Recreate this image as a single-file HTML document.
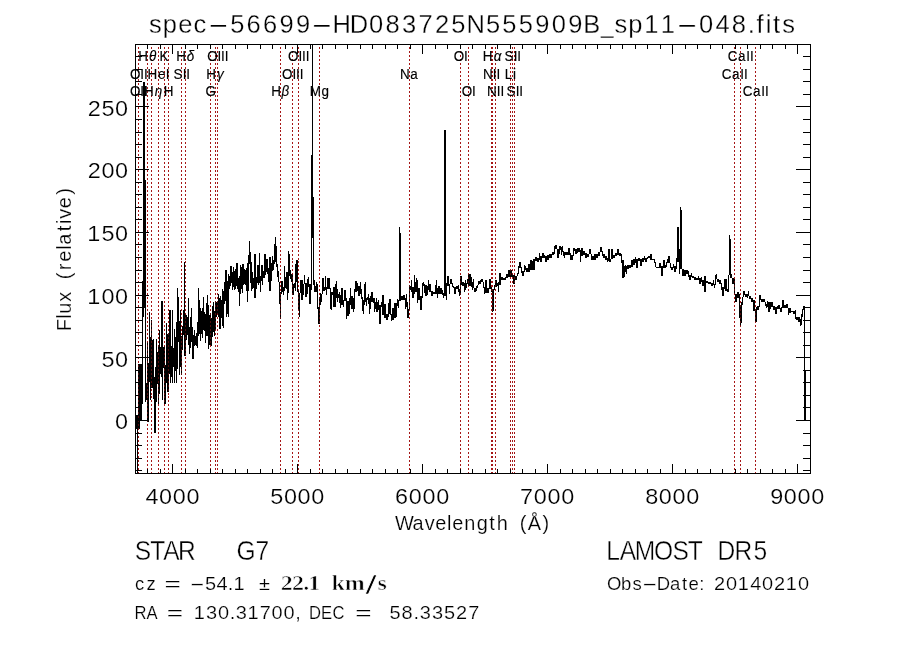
<!DOCTYPE html>
<html lang="en"><head><meta charset="utf-8"><title>spec-56699-HD083725N555909B_sp11-048.fits</title>
<style>html,body{margin:0;padding:0;background:#fff;}body{width:900px;height:649px;overflow:hidden;}svg{display:block;}text{font-family:"Liberation Sans",sans-serif;fill:#000;white-space:pre;}.serif{font-family:"Liberation Serif",serif;}.b{font-weight:bold;}.ax{stroke:#000;stroke-width:1;fill:none;shape-rendering:crispEdges;}.sp{stroke:#000;stroke-width:1;fill:none;shape-rendering:crispEdges;}.rl{stroke:#a61616;stroke-width:1;stroke-dasharray:2 1.97;fill:none;shape-rendering:crispEdges;}</style></head><body>
<svg width="900" height="649" viewBox="0 0 900 649">
<rect x="0" y="0" width="900" height="649" fill="#fff"/>
<text y="33.0" font-size="25.5" style="stroke:#fff;stroke-width:0.3px;paint-order:fill stroke"><tspan x="149.09 162.79 178.31 193.60">spec</tspan><tspan x="207.17" textLength="22.21" lengthAdjust="spacingAndGlyphs">-</tspan><tspan x="230.13 246.46 262.91 279.45 295.90">56699</tspan><tspan x="310.80" textLength="22.21" lengthAdjust="spacingAndGlyphs">-</tspan><tspan x="332.43 349.68 369.09 385.54 402.07 418.43 434.89 451.36 466.49 485.91 502.36 518.80 535.23 551.68 568.13 583.20">HD083725N555909B</tspan><tspan x="601.05" textLength="12.56" lengthAdjust="spacingAndGlyphs">_</tspan><tspan x="614.59 628.29 644.26 660.71">sp11</tspan><tspan x="675.96" textLength="22.21" lengthAdjust="spacingAndGlyphs">-</tspan><tspan x="698.89 715.42 731.79 747.68 756.52 765.66 773.07 782.37">048.fits</tspan></text>
<path class="rl" d="M138.5 473.9V45M147.5 473.9V45M151.5 473.9V45M158.5 473.9V45M164.5 473.9V45M168.5 473.9V45M181.5 473.9V45M185.5 473.9V45M210.5 473.9V45M215.5 473.9V45M217.5 473.9V45M280.5 473.9V45M292.5 473.9V45M298.5 473.9V45M319.5 473.9V45M409.5 473.9V45M460.5 473.9V45M468.5 473.9V45M491.5 473.9V45M492.5 473.9V45M495.5 473.9V45M510.5 473.9V45M512.5 473.9V45M514.5 473.9V45M734.5 473.9V45M740.5 473.9V45M755.5 473.9V45"/>
<text transform="scale(0.96 1)" y="78.6" font-size="14" style="stroke:#000;stroke-width:0.15px"><tspan x="135.38 146.07 149.90">OII</tspan></text>
<text transform="scale(0.96 1)" y="95.6" font-size="14" style="stroke:#000;stroke-width:0.15px"><tspan x="135.38 146.07 149.90">OII</tspan></text>
<text transform="scale(0.96 1)" y="61.5" font-size="14" style="stroke:#000;stroke-width:0.15px"><tspan x="143.93">H</tspan><tspan x="155.15" font-style="italic">θ</tspan></text>
<text transform="scale(0.96 1)" y="95.6" font-size="14" style="stroke:#000;stroke-width:0.15px"><tspan x="150.13">H</tspan><tspan x="161.22" font-style="italic">η</tspan></text>
<text transform="scale(0.96 1)" y="78.6" font-size="14" style="stroke:#000;stroke-width:0.15px"><tspan x="153.77 164.53 172.69">HeI</tspan></text>
<text transform="scale(0.96 1)" y="61.5" font-size="14" style="stroke:#000;stroke-width:0.15px"><tspan x="166.19">K</tspan></text>
<text transform="scale(0.96 1)" y="95.6" font-size="14" style="stroke:#000;stroke-width:0.15px"><tspan x="170.46">H</tspan></text>
<text transform="scale(0.96 1)" y="78.6" font-size="14" style="stroke:#000;stroke-width:0.15px"><tspan x="180.81 190.24 194.08">SII</tspan></text>
<text transform="scale(0.96 1)" y="61.5" font-size="14" style="stroke:#000;stroke-width:0.15px"><tspan x="183.68">H</tspan><tspan x="194.43" font-style="italic">δ</tspan></text>
<text transform="scale(0.96 1)" y="95.6" font-size="14" style="stroke:#000;stroke-width:0.15px"><tspan x="214.00">G</tspan></text>
<text transform="scale(0.96 1)" y="78.6" font-size="14" style="stroke:#000;stroke-width:0.15px"><tspan x="214.86">H</tspan><tspan x="226.00" font-style="italic">γ</tspan></text>
<text transform="scale(0.96 1)" y="61.5" font-size="14" style="stroke:#000;stroke-width:0.15px"><tspan x="215.76 226.44 230.27 234.11">OIII</tspan></text>
<text transform="scale(0.96 1)" y="95.6" font-size="14" style="stroke:#000;stroke-width:0.15px"><tspan x="282.54">H</tspan><tspan x="293.19" font-style="italic">β</tspan></text>
<text transform="scale(0.96 1)" y="78.6" font-size="14" style="stroke:#000;stroke-width:0.15px"><tspan x="293.88 304.57 308.40 312.23">OIII</tspan></text>
<text transform="scale(0.96 1)" y="61.5" font-size="14" style="stroke:#000;stroke-width:0.15px"><tspan x="300.13 310.82 314.65 318.48">OIII</tspan></text>
<text transform="scale(0.96 1)" y="95.6" font-size="14" style="stroke:#000;stroke-width:0.15px"><tspan x="322.60 335.00">Mg</tspan></text>
<text transform="scale(0.96 1)" y="78.6" font-size="14" style="stroke:#000;stroke-width:0.15px"><tspan x="416.75 427.44">Na</tspan></text>
<text transform="scale(0.96 1)" y="61.5" font-size="14" style="stroke:#000;stroke-width:0.15px"><tspan x="472.72 483.40">OI</tspan></text>
<text transform="scale(0.96 1)" y="95.6" font-size="14" style="stroke:#000;stroke-width:0.15px"><tspan x="481.05 491.73">OI</tspan></text>
<text transform="scale(0.96 1)" y="78.6" font-size="14" style="stroke:#000;stroke-width:0.15px"><tspan x="503.04 513.34 517.17">NII</tspan></text>
<text transform="scale(0.96 1)" y="61.5" font-size="14" style="stroke:#000;stroke-width:0.15px"><tspan x="502.99">H</tspan><tspan x="514.21" font-style="italic">α</tspan></text>
<text transform="scale(0.96 1)" y="95.6" font-size="14" style="stroke:#000;stroke-width:0.15px"><tspan x="507.21 517.51 521.34">NII</tspan></text>
<text transform="scale(0.96 1)" y="78.6" font-size="14" style="stroke:#000;stroke-width:0.15px"><tspan x="525.78 534.45">Li</tspan></text>
<text transform="scale(0.96 1)" y="61.5" font-size="14" style="stroke:#000;stroke-width:0.15px"><tspan x="525.61 535.04 538.87">SII</tspan></text>
<text transform="scale(0.96 1)" y="95.6" font-size="14" style="stroke:#000;stroke-width:0.15px"><tspan x="527.69 537.12 540.95">SII</tspan></text>
<text transform="scale(0.96 1)" y="78.6" font-size="14" style="stroke:#000;stroke-width:0.15px"><tspan x="751.91 762.44 771.16 774.99">CaII</tspan></text>
<text transform="scale(0.96 1)" y="61.5" font-size="14" style="stroke:#000;stroke-width:0.15px"><tspan x="758.16 768.69 777.41 781.24">CaII</tspan></text>
<text transform="scale(0.96 1)" y="95.6" font-size="14" style="stroke:#000;stroke-width:0.15px"><tspan x="773.78 784.32 793.03 796.87">CaII</tspan></text>
<path class="sp" d="M136.5 415v14M137.5 415v59M138.5 364v65M139.5 364v65M140.5 364v56M141.5 364v56M142.5 281v123M143.5 82v235M144.5 82v226M145.5 180v222M146.5 383v17M147.5 342v80M148.5 363v59M149.5 312v70M150.5 337v63M151.5 320v68M152.5 340v48M153.5 339v60M154.5 377v56M155.5 367v66M156.5 339v63M157.5 352v32M158.5 345v59M159.5 330v64M160.5 347v27M161.5 301v76M162.5 301v99M163.5 347v21M164.5 346v58M165.5 365v39M166.5 323v60M167.5 334v58M168.5 333v59M169.5 310v64M170.5 310v73M171.5 346v31M172.5 310v73M173.5 348v19M174.5 329v54M175.5 337v34M176.5 322v61M177.5 288v81M178.5 297v45M179.5 321v54M180.5 310v57M181.5 336v39M182.5 326v24M183.5 310v25M184.5 262v94M185.5 314v42M186.5 315v25M187.5 317v18M188.5 298v47M189.5 327v27M190.5 317v31M191.5 308v34M192.5 327v32M193.5 335v24M194.5 330v16M195.5 336v9M196.5 333v13M197.5 322v26M198.5 288v48M199.5 300v34M200.5 308v33M201.5 311v23M202.5 308v30M203.5 297v33M204.5 312v19M205.5 314v29M206.5 303v33M207.5 295v41M208.5 305v44M209.5 315v30M210.5 313v32M211.5 318v28M212.5 306v31M213.5 302v30M214.5 311v25M215.5 301v29M216.5 302v15M217.5 301v13M218.5 294v23M219.5 298v31M220.5 296v33M221.5 300v18M222.5 289v37M223.5 291v37M224.5 282v22M225.5 270v31M226.5 270v47M227.5 281v33M228.5 274v43M229.5 276v13M230.5 266v20M231.5 266v17M232.5 272v18M233.5 267v20M234.5 271v19M235.5 269v20M236.5 263v23M237.5 263v26M238.5 278v14M239.5 276v30M240.5 265v29M241.5 267v22M242.5 264v29M243.5 264v21M244.5 269v15M245.5 270v15M246.5 268v23M247.5 263v39M248.5 255v36M249.5 241v23M250.5 252v31M251.5 262v29M252.5 272v17M253.5 278v10M254.5 254v44M255.5 254v44M256.5 277v12M257.5 265v18M258.5 265v20M259.5 253v30M260.5 276v16M261.5 265v16M262.5 265v20M263.5 271v7M264.5 254v24M265.5 254v21M266.5 259v13M267.5 259v15M268.5 268v14M269.5 257v34M270.5 257v34M271.5 263v18M272.5 256v15M273.5 260v10M274.5 244v20M275.5 237v25M276.5 246v21M277.5 264v13M278.5 271v11M279.5 282v22M280.5 292v27M281.5 281v13M282.5 281v11M283.5 287v8M284.5 266v25M285.5 277v11M286.5 272v17M287.5 272v28M288.5 251v42M289.5 254v22M290.5 270v9M291.5 274v8M292.5 274v21M293.5 284v11M294.5 283v5M295.5 264v27M296.5 260v22M297.5 260v32M298.5 290v20M299.5 293v24M300.5 280v13M301.5 280v20M302.5 280v20M303.5 284v11M304.5 275v9M305.5 283v14M306.5 283v14M307.5 279v15M308.5 277v10M309.5 284v20M310.5 284v20M311.5 155v135M312.5 44v194M313.5 197v88M314.5 280v12M315.5 286v6M316.5 282v10M317.5 284v25M318.5 307v17M319.5 297v27M320.5 293v12M321.5 294v8M322.5 278v16M323.5 278v13M324.5 287v4M325.5 276v14M326.5 287v8M327.5 278v11M328.5 278v11M329.5 278v11M330.5 288v21M331.5 292v18M332.5 292v3M333.5 287v20M334.5 287v20M335.5 284v23M336.5 281v17M337.5 289v13M338.5 294v4M339.5 292v11M340.5 295v13M341.5 288v17M342.5 288v17M343.5 300v7M344.5 290v11M345.5 290v11M346.5 298v21M347.5 301v15M348.5 301v15M349.5 298v16M350.5 288v17M351.5 296v13M352.5 296v13M353.5 298v14M354.5 289v20M355.5 281v11M356.5 281v11M357.5 283v8M358.5 286v10M359.5 286v10M360.5 282v12M361.5 289v10M362.5 297v14M363.5 300v14M364.5 284v21M365.5 282v20M366.5 298v8M367.5 297v3M368.5 294v10M369.5 298v16M370.5 296v13M371.5 292v10M372.5 292v10M373.5 298v5M374.5 298v14M375.5 302v7M376.5 298v14M377.5 302v10M378.5 300v10M379.5 305v19M380.5 305v19M381.5 302v5M382.5 295v20M383.5 295v20M384.5 304v14M385.5 304v14M386.5 314v6M387.5 314v6M388.5 303v14M389.5 299v15M390.5 299v16M391.5 314v7M392.5 308v12M393.5 308v12M394.5 303v15M395.5 303v15M396.5 303v14M397.5 299v7M398.5 300v8M399.5 227v74M400.5 233v68M401.5 296v4M402.5 296v4M403.5 295v5M404.5 295v5M405.5 298v11M406.5 294v13M407.5 302v16M408.5 309v9M409.5 285v25M410.5 286v4M411.5 280v12M412.5 287v11M413.5 287v11M414.5 275v19M415.5 282v10M416.5 278v14M417.5 280v23M418.5 288v12M419.5 288v12M420.5 296v14M421.5 296v14M422.5 283v15M423.5 282v4M424.5 284v9M425.5 285v11M426.5 285v11M427.5 286v9M428.5 280v10M429.5 284v8M430.5 284v8M431.5 291v5M432.5 291v5M433.5 292v2M434.5 292v2M435.5 285v9M436.5 280v14M437.5 288v10M438.5 286v8M439.5 286v8M440.5 288v6M441.5 288v6M442.5 290v5M443.5 293v5M444.5 130v166M445.5 130v166M446.5 283v17M447.5 276v10M448.5 276v10M449.5 284v10M450.5 279v5M451.5 279v5M452.5 283v4M453.5 286v2M454.5 287v7M455.5 287v7M456.5 286v3M457.5 286v3M458.5 285v7M459.5 289v7M460.5 276v19M461.5 276v9M462.5 282v4M463.5 282v4M464.5 283v9M465.5 280v10M466.5 283v5M467.5 279v5M468.5 274v12M469.5 274v12M470.5 274v12M471.5 277v10M472.5 282v8M473.5 279v9M474.5 288v4M475.5 288v4M476.5 286v5M477.5 285v3M478.5 281v4M479.5 281v3M480.5 280v4M481.5 279v3M482.5 279v3M483.5 282v6M484.5 287v7M485.5 280v13M486.5 280v13M487.5 288v5M488.5 288v5M489.5 279v10M490.5 279v10M491.5 287v5M492.5 289v23M493.5 289v22M494.5 285v5M495.5 280v7M496.5 280v7M497.5 283v3M498.5 282v10M499.5 273v12M500.5 273v12M501.5 277v3M502.5 277v3M503.5 278v2M504.5 278v2M505.5 277v3M506.5 274v4M507.5 274v4M508.5 270v7M509.5 270v7M510.5 270v7M511.5 270v7M512.5 274v3M513.5 275v9M514.5 275v9M515.5 276v4M516.5 276v4M517.5 273v3M518.5 266v8M519.5 262v6M520.5 262v6M521.5 267v6M522.5 271v5M523.5 271v5M524.5 265v7M525.5 266v4M526.5 268v4M527.5 268v4M528.5 264v8M529.5 264v8M530.5 260v10M531.5 260v10M532.5 261v9M533.5 259v11M534.5 259v11M535.5 257v4M536.5 257v4M537.5 258v4M538.5 258v4M539.5 253v7M540.5 256v6M541.5 256v6M542.5 253v5M543.5 253v5M544.5 255v3M545.5 256v6M546.5 256v6M547.5 255v5M548.5 255v5M549.5 254v4M550.5 254v4M551.5 254v4M552.5 252v3M553.5 252v3M554.5 246v8M555.5 245v4M556.5 245v4M557.5 249v9M558.5 249v9M559.5 246v8M560.5 246v4M561.5 247v8M562.5 246v6M563.5 251v5M564.5 252v6M565.5 252v3M566.5 252v3M567.5 252v3M568.5 248v7M569.5 248v7M570.5 253v7M571.5 255v5M572.5 255v5M573.5 248v8M574.5 248v3M575.5 249v5M576.5 249v5M577.5 248v5M578.5 248v4M579.5 248v4M580.5 250v12M581.5 248v8M582.5 248v8M583.5 251v4M584.5 251v4M585.5 253v5M586.5 253v5M587.5 254v3M588.5 254v3M589.5 249v5M590.5 249v5M591.5 254v6M592.5 256v4M593.5 256v4M594.5 254v6M595.5 254v6M596.5 254v4M597.5 254v4M598.5 252v4M599.5 252v4M600.5 247v5M601.5 247v5M602.5 251v5M603.5 254v4M604.5 254v4M605.5 256v4M606.5 256v4M607.5 258v4M608.5 249v12M609.5 249v13M610.5 259v3M611.5 249v10M612.5 249v10M613.5 255v3M614.5 255v3M615.5 253v3M616.5 253v3M617.5 249v6M618.5 249v6M619.5 253v3M620.5 253v3M621.5 254v9M622.5 260v18M623.5 260v18M624.5 266v11M625.5 265v7M626.5 266v8M627.5 265v4M628.5 265v4M629.5 265v3M630.5 265v3M631.5 260v7M632.5 260v7M633.5 259v6M634.5 259v6M635.5 257v6M636.5 259v9M637.5 259v9M638.5 258v3M639.5 258v3M640.5 259v7M641.5 259v7M642.5 258v4M643.5 258v4M644.5 256v4M645.5 258v4M646.5 258v4M647.5 257v2M648.5 256v2M649.5 256v2M650.5 254v6M651.5 254v6M652.5 259v1M653.5 259v1M654.5 259v4M655.5 262v5M656.5 267v1M657.5 267v1M658.5 267v1M659.5 263v5M660.5 263v5M661.5 266v10M662.5 266v10M663.5 260v8M664.5 260v8M665.5 265v3M666.5 262v5M667.5 259v4M668.5 256v7M669.5 256v7M670.5 263v5M671.5 267v3M672.5 267v3M673.5 264v4M674.5 266v6M675.5 266v6M676.5 258v11M677.5 227v35M678.5 227v35M679.5 249v25M680.5 207v62M681.5 210v59M682.5 269v7M683.5 269v7M684.5 270v6M685.5 270v6M686.5 270v4M687.5 270v4M688.5 271v6M689.5 275v5M690.5 275v5M691.5 273v4M692.5 276v2M693.5 276v2M694.5 277v3M695.5 277v3M696.5 278v2M697.5 278v2M698.5 276v4M699.5 278v6M700.5 278v6M701.5 277v5M702.5 280v6M703.5 280v6M704.5 276v16M705.5 276v16M706.5 281v2M707.5 281v2M708.5 282v2M709.5 282v2M710.5 282v2M711.5 283v3M712.5 283v3M713.5 280v5M714.5 284v4M715.5 275v10M716.5 274v5M717.5 279v3M718.5 279v3M719.5 280v4M720.5 280v4M721.5 283v7M722.5 287v9M723.5 287v9M724.5 279v10M725.5 279v12M726.5 279v12M727.5 289v3M728.5 275v17M729.5 235v40M730.5 239v39M731.5 274v4M732.5 278v6M733.5 278v6M734.5 279v15M735.5 294v8M736.5 294v8M737.5 292v6M738.5 292v6M739.5 294v24M740.5 305v21M741.5 302v21M742.5 297v8M743.5 291v6M744.5 291v4M745.5 294v3M746.5 294v3M747.5 294v4M748.5 291v5M749.5 296v3M750.5 296v3M751.5 298v4M752.5 298v4M753.5 300v11M754.5 300v11M755.5 309v13M756.5 307v15M757.5 306v4M758.5 306v4M759.5 295v12M760.5 295v5M761.5 299v3M762.5 299v3M763.5 299v3M764.5 299v3M765.5 302v4M766.5 304v4M767.5 301v6M768.5 302v10M769.5 302v10M770.5 302v7M771.5 302v5M772.5 302v5M773.5 306v4M774.5 306v4M775.5 307v7M776.5 307v7M777.5 306v3M778.5 305v4M779.5 305v4M780.5 308v4M781.5 307v5M782.5 300v8M783.5 300v8M784.5 305v3M785.5 305v3M786.5 304v4M787.5 304v4M788.5 308v7M789.5 308v5M790.5 308v5M791.5 311v1M792.5 311v1M793.5 311v3M794.5 311v3M795.5 310v9M796.5 317v3M797.5 317v3M798.5 317v5M799.5 317v5M800.5 319v7M801.5 314v11M802.5 309v8M803.5 306v4M804.5 306v115M805.5 370v51"/>
<path class="rl" opacity="0.5" d="M138.5 473.9V103M147.5 473.9V103M151.5 473.9V103M158.5 473.9V103M164.5 473.9V103M168.5 473.9V103M181.5 473.9V103M185.5 473.9V103M210.5 473.9V103M215.5 473.9V103M217.5 473.9V103M280.5 473.9V103M292.5 473.9V103M298.5 473.9V103M319.5 473.9V103M409.5 473.9V103M460.5 473.9V103M468.5 473.9V103M491.5 473.9V103M492.5 473.9V103M495.5 473.9V103M510.5 473.9V103M512.5 473.9V103M514.5 473.9V103M734.5 473.9V103M740.5 473.9V103M755.5 473.9V103"/>
<g class="ax">
<rect x="135.5" y="44.5" width="675" height="429"/>
<path d="M147.5 473v-4 M147.5 45v4 M160.5 473v-4 M160.5 45v4 M172.5 473v-9 M172.5 45v9 M185.5 473v-4 M185.5 45v4 M197.5 473v-4 M197.5 45v4 M210.5 473v-4 M210.5 45v4 M222.5 473v-4 M222.5 45v4 M235.5 473v-4 M235.5 45v4 M247.5 473v-4 M247.5 45v4 M260.5 473v-4 M260.5 45v4 M272.5 473v-4 M272.5 45v4 M285.5 473v-4 M285.5 45v4 M297.5 473v-9 M297.5 45v9 M310.5 473v-4 M310.5 45v4 M322.5 473v-4 M322.5 45v4 M335.5 473v-4 M335.5 45v4 M347.5 473v-4 M347.5 45v4 M360.5 473v-4 M360.5 45v4 M372.5 473v-4 M372.5 45v4 M385.5 473v-4 M385.5 45v4 M397.5 473v-4 M397.5 45v4 M410.5 473v-4 M410.5 45v4 M422.5 473v-9 M422.5 45v9 M435.5 473v-4 M435.5 45v4 M447.5 473v-4 M447.5 45v4 M460.5 473v-4 M460.5 45v4 M472.5 473v-4 M472.5 45v4 M485.5 473v-4 M485.5 45v4 M497.5 473v-4 M497.5 45v4 M510.5 473v-4 M510.5 45v4 M522.5 473v-4 M522.5 45v4 M535.5 473v-4 M535.5 45v4 M547.5 473v-9 M547.5 45v9 M560.5 473v-4 M560.5 45v4 M572.5 473v-4 M572.5 45v4 M585.5 473v-4 M585.5 45v4 M597.5 473v-4 M597.5 45v4 M610.5 473v-4 M610.5 45v4 M622.5 473v-4 M622.5 45v4 M635.5 473v-4 M635.5 45v4 M647.5 473v-4 M647.5 45v4 M660.5 473v-4 M660.5 45v4 M672.5 473v-9 M672.5 45v9 M685.5 473v-4 M685.5 45v4 M697.5 473v-4 M697.5 45v4 M710.5 473v-4 M710.5 45v4 M722.5 473v-4 M722.5 45v4 M735.5 473v-4 M735.5 45v4 M747.5 473v-4 M747.5 45v4 M760.5 473v-4 M760.5 45v4 M772.5 473v-4 M772.5 45v4 M785.5 473v-4 M785.5 45v4 M797.5 473v-9 M797.5 45v9 M810.5 473v-4 M810.5 45v4 M136 470.5h6 M810 470.5h-7 M136 458.5h6 M810 458.5h-7 M136 445.5h6 M810 445.5h-7 M136 433.5h6 M810 433.5h-7 M136 420.5h13 M810 420.5h-14 M136 407.5h6 M810 407.5h-7 M136 395.5h6 M810 395.5h-7 M136 382.5h6 M810 382.5h-7 M136 370.5h6 M810 370.5h-7 M136 357.5h13 M810 357.5h-14 M136 345.5h6 M810 345.5h-7 M136 332.5h6 M810 332.5h-7 M136 320.5h6 M810 320.5h-7 M136 307.5h6 M810 307.5h-7 M136 295.5h13 M810 295.5h-14 M136 282.5h6 M810 282.5h-7 M136 270.5h6 M810 270.5h-7 M136 257.5h6 M810 257.5h-7 M136 244.5h6 M810 244.5h-7 M136 232.5h13 M810 232.5h-14 M136 219.5h6 M810 219.5h-7 M136 207.5h6 M810 207.5h-7 M136 194.5h6 M810 194.5h-7 M136 182.5h6 M810 182.5h-7 M136 169.5h13 M810 169.5h-14 M136 157.5h6 M810 157.5h-7 M136 144.5h6 M810 144.5h-7 M136 132.5h6 M810 132.5h-7 M136 119.5h6 M810 119.5h-7 M136 106.5h13 M810 106.5h-14 M136 94.5h6 M810 94.5h-7 M136 81.5h6 M810 81.5h-7 M136 69.5h6 M810 69.5h-7 M136 56.5h6 M810 56.5h-7"/>
</g>
<text transform="scale(1.05 1)" y="504" font-size="22.3" style="stroke:#fff;stroke-width:0.2px;paint-order:fill stroke"><tspan x="138.54 151.51 164.56 177.61">4000</tspan></text>
<text transform="scale(1.05 1)" y="504" font-size="22.3" style="stroke:#fff;stroke-width:0.2px;paint-order:fill stroke"><tspan x="257.37 270.40 283.44 296.49">5000</tspan></text>
<text transform="scale(1.05 1)" y="504" font-size="22.3" style="stroke:#fff;stroke-width:0.2px;paint-order:fill stroke"><tspan x="376.25 389.37 402.42 415.47">6000</tspan></text>
<text transform="scale(1.05 1)" y="504" font-size="22.3" style="stroke:#fff;stroke-width:0.2px;paint-order:fill stroke"><tspan x="495.32 508.38 521.43 534.48">7000</tspan></text>
<text transform="scale(1.05 1)" y="504" font-size="22.3" style="stroke:#fff;stroke-width:0.2px;paint-order:fill stroke"><tspan x="614.46 627.51 640.56 653.61">8000</tspan></text>
<text transform="scale(1.05 1)" y="504" font-size="22.3" style="stroke:#fff;stroke-width:0.2px;paint-order:fill stroke"><tspan x="733.48 746.52 759.57 772.61">9000</tspan></text>
<text transform="scale(1.05 1)" y="429.0" font-size="22.3" style="stroke:#fff;stroke-width:0.2px;paint-order:fill stroke"><tspan x="109.61">0</tspan></text>
<text transform="scale(1.05 1)" y="366.6" font-size="22.3" style="stroke:#fff;stroke-width:0.2px;paint-order:fill stroke"><tspan x="96.59 109.61">50</tspan></text>
<text transform="scale(1.05 1)" y="303.8" font-size="22.3" style="stroke:#fff;stroke-width:0.2px;paint-order:fill stroke"><tspan x="83.21 96.56 109.61">100</tspan></text>
<text transform="scale(1.05 1)" y="240.9" font-size="22.3" style="stroke:#fff;stroke-width:0.2px;paint-order:fill stroke"><tspan x="83.21 96.59 109.61">150</tspan></text>
<text transform="scale(1.05 1)" y="178.5" font-size="22.3" style="stroke:#fff;stroke-width:0.2px;paint-order:fill stroke"><tspan x="83.52 96.56 109.61">200</tspan></text>
<text transform="scale(1.05 1)" y="115.8" font-size="22.3" style="stroke:#fff;stroke-width:0.2px;paint-order:fill stroke"><tspan x="83.52 96.59 109.61">250</tspan></text>
<text transform="scale(0.9500 1)" y="530.0" font-size="21" style="stroke:#fff;stroke-width:0.2px;paint-order:fill stroke"><tspan x="415.80 434.15 447.17 458.23 470.61 476.03 488.65 501.91 515.12 522.84">Wavelength</tspan> <tspan x="547.12 555.58 571.05">(Å)</tspan></text>
<text transform="translate(70.7 0) rotate(-90) scale(0.9500 1)" y="0.0" font-size="21" style="stroke:#fff;stroke-width:0.2px;paint-order:fill stroke"><tspan x="-348.78 -335.63 -330.16 -317.64">Flux</tspan> <tspan x="-294.04 -284.57 -275.56 -263.02 -257.56 -243.48 -235.84 -230.40 -219.12 -205.06">(relative)</tspan></text>
<text transform="scale(0.9000 1)" y="560.0" font-size="27.3" style="stroke:#fff;stroke-width:0.4px;paint-order:fill stroke"><tspan x="149.87 166.83 181.36 197.66">STAR</tspan> <tspan x="262.85 283.97">G7</tspan></text>
<text transform="scale(0.9000 1)" y="560.0" font-size="27.3" style="stroke:#fff;stroke-width:0.4px;paint-order:fill stroke"><tspan x="673.65 688.60 705.29 726.80 747.27 764.28">LAMOST</tspan> <tspan x="797.20 816.08 837.30">DR5</tspan></text>
<text y="590.0" font-size="18.5" style="stroke:#fff;stroke-width:0.2px;paint-order:fill stroke"><tspan x="135.01 146.47">cz</tspan></text>
<text transform="scale(1.0800 1)" y="590.0" font-size="18.5" style="stroke:#fff;stroke-width:0.2px;paint-order:fill stroke"><tspan x="152.36" textLength="15.11" lengthAdjust="spacingAndGlyphs">=</tspan> <tspan x="175.39" textLength="14.42" lengthAdjust="spacingAndGlyphs">-</tspan><tspan x="189.75 200.47 210.99 216.17">54.1</tspan> <tspan x="239.73">±</tspan></text>
<text class="serif b" transform="scale(1.2 1)" y="590" font-size="20" style="stroke:#fff;stroke-width:0.55px;paint-order:fill stroke"><tspan x="233.99 243.29 252.76 256.95">22.1</tspan> <tspan x="276.25 287.35">km</tspan><tspan x="304.42" y="593.6" font-size="25.0" textLength="9.67" lengthAdjust="spacingAndGlyphs" style="font-family:'Liberation Sans',sans-serif;font-weight:normal">/</tspan><tspan y="590" x="314.59">s</tspan></text>
<text transform="scale(0.9000 1)" y="619.5" font-size="18.5" style="stroke:#fff;stroke-width:0.2px;paint-order:fill stroke"><tspan x="149.37 162.70">RA</tspan></text>
<text transform="scale(1.0800 1)" y="619.5" font-size="18.5" style="stroke:#fff;stroke-width:0.2px;paint-order:fill stroke"><tspan x="154.44" textLength="15.11" lengthAdjust="spacingAndGlyphs">=</tspan> <tspan x="179.42 190.78 201.77 212.63 218.39 229.13 240.42 251.47 262.52 273.37">130.31700,</tspan></text>
<text transform="scale(0.9000 1)" y="619.5" font-size="18.5" style="stroke:#fff;stroke-width:0.2px;paint-order:fill stroke"><tspan x="343.26 356.67 369.34">DEC</tspan></text>
<text transform="scale(1.0800 1)" y="619.5" font-size="18.5" style="stroke:#fff;stroke-width:0.2px;paint-order:fill stroke"><tspan x="329.02" textLength="15.11" lengthAdjust="spacingAndGlyphs">=</tspan> <tspan x="360.65 371.84 382.83 388.72 399.93 411.11 422.31 433.51">58.33527</tspan></text>
<text y="590.0" font-size="18.5" style="stroke:#fff;stroke-width:0.2px;paint-order:fill stroke"><tspan x="606.92 620.92 632.41">Obs</tspan><tspan x="641.70" textLength="16.02" lengthAdjust="spacingAndGlyphs">-</tspan><tspan x="656.66 669.98 682.07 688.49 699.35">Date:</tspan></text>
<text transform="scale(1.0800 1)" y="590.0" font-size="18.5" style="stroke:#fff;stroke-width:0.2px;paint-order:fill stroke"><tspan x="661.20 672.31 683.16 694.58 705.63 716.74 727.59 738.95">20140210</tspan></text>
</svg></body></html>
